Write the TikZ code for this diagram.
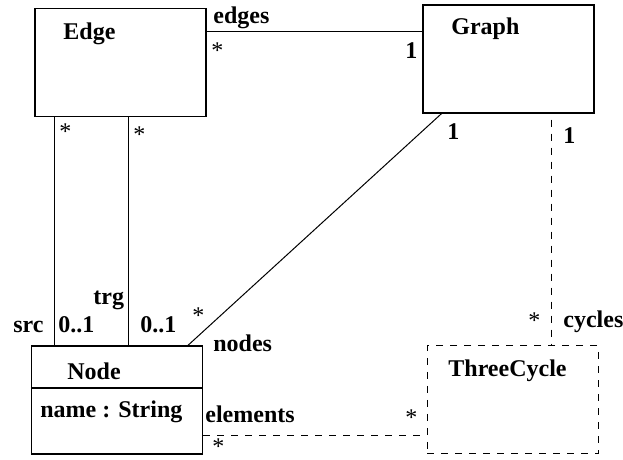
\documentclass[tikz,border=0pt]{standalone}
\usepackage{fontspec}
\setmainfont{Liberation Serif}
\usetikzlibrary{calc}
\begin{document}
\begin{tikzpicture}[x=0.5pt,y=-0.5pt,
  cls/.style={draw,line width=0.65pt,minimum width=85.5pt,minimum height=54pt,inner sep=0pt},
  dcls/.style={cls,line width=0.5pt,dash pattern=on 3.5pt off 3.5pt},
  lbl/.style={anchor=base west,inner sep=0pt,font=\fontsize{12}{14}\selectfont\bfseries},
  star/.style={anchor=base west,inner sep=0pt,font=\fontsize{12}{14}\selectfont},
  conn/.style={line width=0.5pt},
  dconn/.style={line width=0.5pt,dash pattern=on 3.5pt off 3.5pt}]
\useasboundingbox (0,0) rectangle (623,460);
% classes
\node[cls] (Edge) at (120.5,62.5) {};
\node[cls] (Graph) at (508.5,59) {};
\node[cls] (Node) at (117,400) {};
\node[dcls] (Three) at (512.5,400) {};
\draw[line width=0.65pt] ($(Node.north west)!0.389!(Node.south west)$) coordinate (nd1)
  -- (nd1 -| Node.east);
% class names
\node[lbl] (tEdge) at (63,40) {Edge};
\node[lbl] (tGraph) at (451,35) {Graph};
\node[lbl] (tNode) at (67,380) {Node};
\node[lbl] (tName) at (40,418) {name : String};
\node[lbl] (tThree) at (448,377) {ThreeCycle};
% connectors
\coordinate (c1) at ($(Edge.north east)!0.22!(Edge.south east)$);
\draw[conn] (c1) -- (c1 -| Graph.west);
\coordinate (c2) at ($(Edge.south west)!0.117!(Edge.south east)$);
\draw[conn] (c2) -- (c2 |- Node.north);
\coordinate (c3) at ($(Edge.south west)!0.544!(Edge.south east)$);
\draw[conn] (c3) -- (c3 |- Node.north);
\draw[conn] ($(Graph.south west)!0.111!(Graph.south east)$) -- ($(Node.north west)!0.912!(Node.north east)$);
\coordinate (c4) at ($(Graph.south west)!0.749!(Graph.south east)$);
\draw[dconn,dash phase=4pt] (c4) -- (c4 |- Three.north);
\coordinate (c5) at ($(Node.north east)!0.824!(Node.south east)$);
\draw[dconn] (c5) -- (c5 -| Three.west);
% role names and multiplicities
\node[lbl] (r1) at (213,24) {edges};
\node[star] (m1) at (211,59) {*};
\node[lbl] (m2) at (405,59) {1};
\node[star] (m3) at (59,140) {*};
\node[star] (m4) at (133,143) {*};
\node[lbl] (m5) at (447,140) {1};
\node[lbl] (m6) at (563,144) {1};
\node[lbl] (r2) at (93,305) {trg};
\node[lbl] (r3) at (13,333) {src};
\node[lbl] (m7) at (58,333) {0..1};
\node[lbl] (m8) at (140,333) {0..1};
\node[star] (m9) at (192,324) {*};
\node[lbl] (r4) at (213,352) {nodes};
\node[lbl] (r5) at (205,423) {elements};
\node[star] (m10) at (212,455) {*};
\node[star] (m11) at (528,329) {*};
\node[lbl] (r6) at (563,328) {cycles};
\node[star] (m12) at (405,426) {*};
\end{tikzpicture}
\end{document}
